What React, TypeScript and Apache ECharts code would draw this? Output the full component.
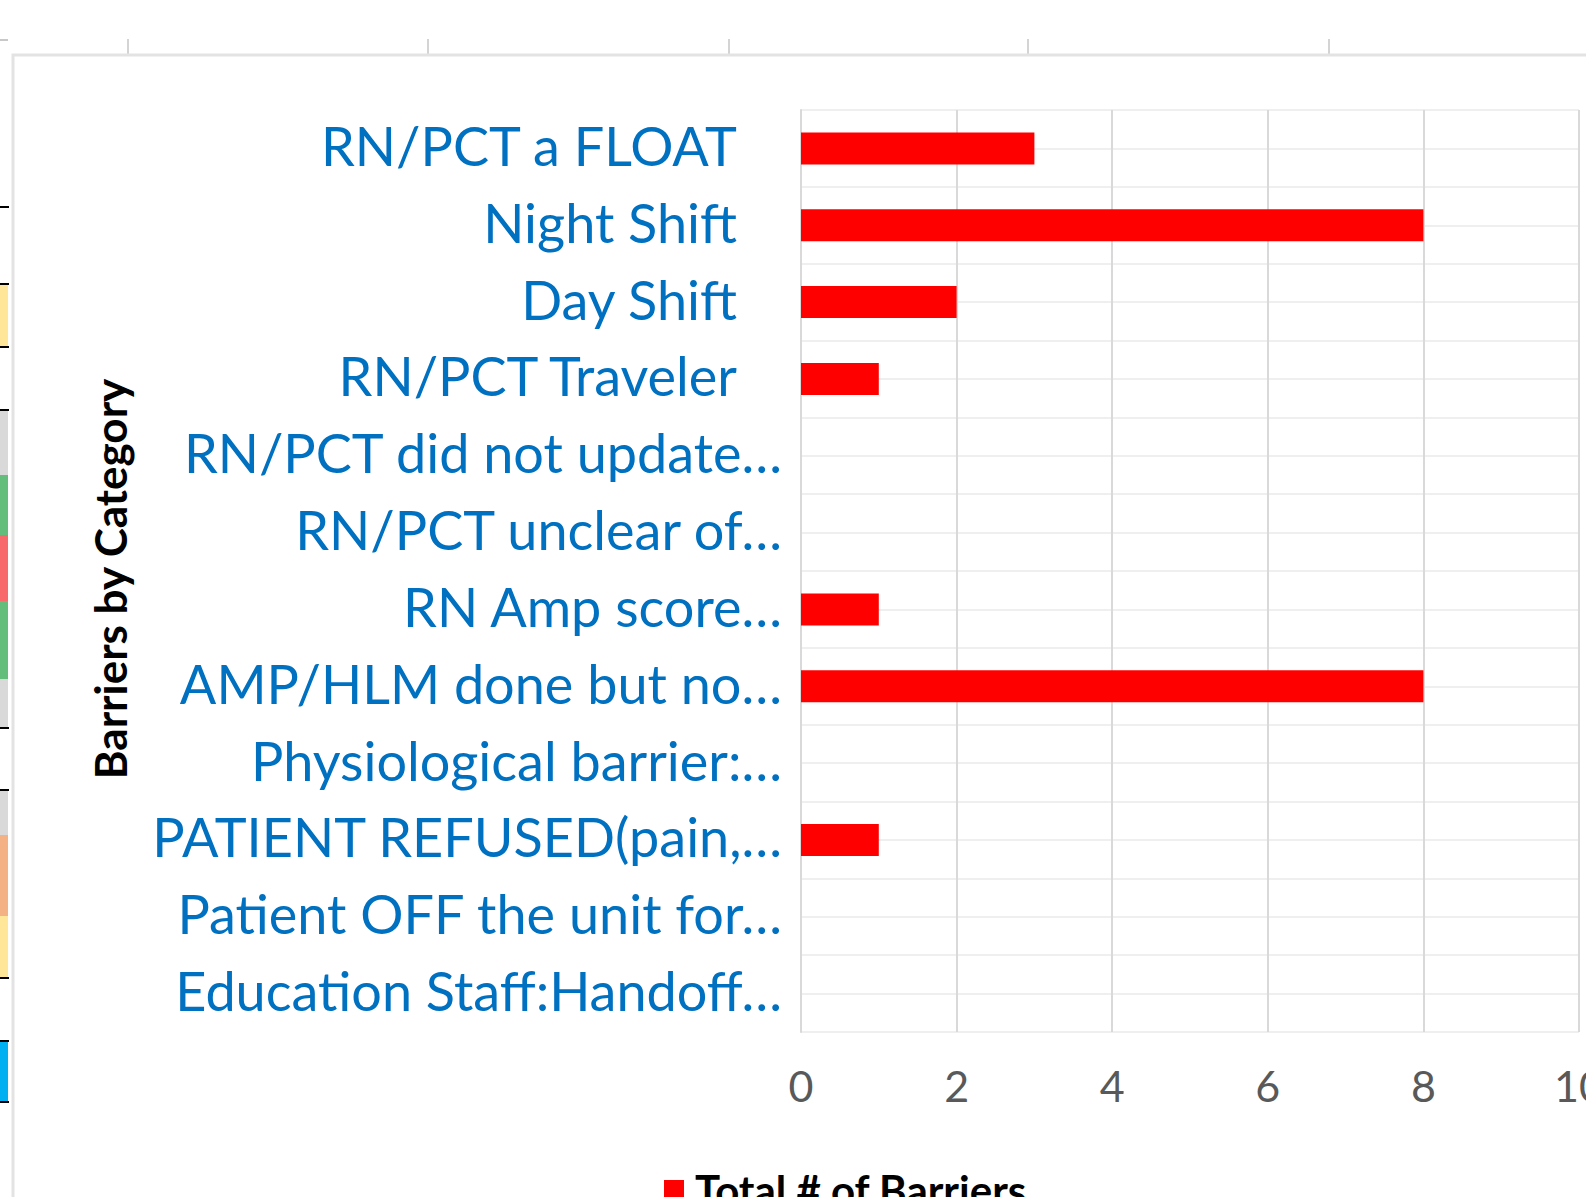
import React, { useEffect, useRef } from "react";
import * as echarts from "echarts";

const categories = [
  "RN/PCT a FLOAT",
  "Night Shift",
  "Day Shift",
  "RN/PCT Traveler",
  "RN/PCT did not update…",
  "RN/PCT unclear of…",
  "RN Amp score…",
  "AMP/HLM done but no…",
  "Physiological barrier:…",
  "PATIENT REFUSED(pain,…",
  "Patient OFF the unit for…",
  "Education Staff:Handoff…",
];
const barrierCounts = [3, 8, 2, 1, 0, 0, 1, 8, 0, 1, 0, 0];
const seriesName = "Total # of Barriers";
const axisTitle = "Barriers by Category";

const FONT = "Lato, 'Open Sans', sans-serif";

export default function App() {
  const ref = useRef<HTMLDivElement>(null);
  useEffect(() => {
    if (!ref.current) return;
    const chart = echarts.init(ref.current, null, { renderer: "svg" });

    const stripCells = [
      { y: 284, h: 63, c: "#ffe699" },
      { y: 410, h: 65, c: "#d9d9d9" },
      { y: 475, h: 60, c: "#63be7b" },
      { y: 535, h: 66, c: "#f8696b" },
      { y: 601, h: 78, c: "#63be7b" },
      { y: 679, h: 49, c: "#d9d9d9" },
      { y: 790, h: 45, c: "#d9d9d9" },
      { y: 835, h: 81, c: "#f4b183" },
      { y: 916, h: 62, c: "#ffe699" },
      { y: 1041, h: 61, c: "#00b0f0" },
    ];
    const blackLines = [207, 284, 347, 410, 728, 790, 978, 1041, 1102];
    const graphics: any[] = [];
    stripCells.forEach((s) =>
      graphics.push({ type: "rect", silent: true, z: -10, shape: { x: 0, y: s.y, width: 8, height: s.h }, style: { fill: s.c } })
    );
    blackLines.forEach((y) =>
      graphics.push({ type: "rect", silent: true, z: -9, shape: { x: 0, y: y - 1, width: 9, height: 2 }, style: { fill: "#000" } })
    );
    [128, 428, 729, 1028, 1329].forEach((x) =>
      graphics.push({ type: "line", silent: true, z: -10, shape: { x1: x, y1: 39, x2: x, y2: 54 }, style: { stroke: "#d4d4d4", lineWidth: 2 } })
    );
    graphics.push({ type: "line", silent: true, z: -10, shape: { x1: 0, y1: 40, x2: 8, y2: 40 }, style: { stroke: "#c8c8c8", lineWidth: 2 } });
    graphics.push({
      type: "rect",
      silent: true,
      z: -10,
      shape: { x: 13, y: 55, width: 1700, height: 1300 },
      style: { fill: "none", stroke: "#e3e3e3", lineWidth: 3 },
    });
    graphics.push({
      type: "text",
      x: 110,
      y: 579,
      rotation: Math.PI / 2,
      style: {
        text: axisTitle,
        fontFamily: FONT,
        fontSize: 44,
        fontWeight: "bold",
        fill: "#000",
        textAlign: "center",
        textVerticalAlign: "middle",
      },
    });

    chart.setOption({
      animation: false,
      backgroundColor: "#ffffff",
      graphic: graphics,
      grid: { left: 801, right: 7, top: 110, bottom: 165, containLabel: false, outerBoundsMode: "none" },
      legend: {
        data: [seriesName],
        left: 659,
        top: 1164,
        icon: "rect",
        itemWidth: 20,
        itemHeight: 20,
        itemGap: 10,
        textStyle: { fontFamily: FONT, fontSize: 42, fontWeight: "bold", color: "#000", padding: [0, 0, 0, 6] },
      },
      xAxis: {
        type: "value",
        min: 0,
        max: 10,
        interval: 2,
        axisLine: { show: false },
        axisTick: { show: false },
        axisLabel: { fontFamily: FONT, fontSize: 43, color: "#595959", margin: 32, hideOverlap: false },
        splitLine: { show: true, lineStyle: { color: "#d9d9d9", width: 2 } },
      },
      yAxis: [
        {
          type: "category",
          inverse: true,
          data: categories,
          axisLine: { show: true, lineStyle: { color: "#d9d9d9", width: 2 } },
          axisTick: { show: false },
          splitLine: { show: false },
          axisLabel: {
            margin: 19,
            fontFamily: FONT,
            fontSize: 54,
            color: "#0070c0",
            formatter: (v: string) => (v.endsWith("…") ? `{t|${v}}` : `{p|${v}}`),
            rich: {
              t: { fontFamily: FONT, fontSize: 54, color: "#0070c0", padding: [0, 0, 6, 0] },
              p: { fontFamily: FONT, fontSize: 54, color: "#0070c0", padding: [0, 45, 6, 0] },
            },
          },
        },
        {
          type: "value",
          min: 0,
          max: 24,
          interval: 1,
          position: "left",
          axisLine: { show: false },
          axisTick: { show: false },
          axisLabel: { show: false },
          splitLine: { show: true, lineStyle: { color: "#efefef", width: 2 } },
        },
      ],
      series: [
        {
          name: seriesName,
          type: "bar",
          yAxisIndex: 0,
          data: barrierCounts,
          barWidth: 32,
          itemStyle: { color: "#ff0000" },
        },
      ],
    });
    return () => chart.dispose();
  }, []);
  return <div ref={ref} style={{ position: "absolute", left: 0, top: 0, width: 1586, height: 1197 }} />;
}
